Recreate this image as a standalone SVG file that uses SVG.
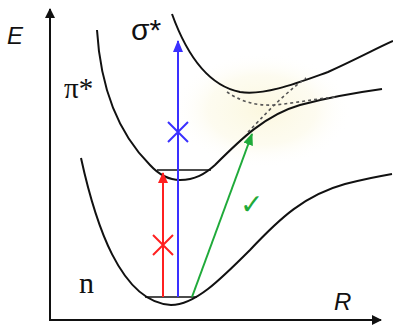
<svg xmlns="http://www.w3.org/2000/svg" width="393" height="326" viewBox="0 0 393 326">
<defs>
<style>
.curve{fill:none;stroke:#111;stroke-width:2}
.level{fill:none;stroke:#111;stroke-width:1.6}
.dash{fill:none;stroke:#555;stroke-width:1.6;stroke-dasharray:3 3}
.axis{fill:none;stroke:#111;stroke-width:2}
.lbl{fill:#111}
</style>
<radialGradient id="glow" cx="0.5" cy="0.5" r="0.5">
<stop offset="0" stop-color="#fbf7dc" stop-opacity="0.9"/>
<stop offset="0.6" stop-color="#fcf9e6" stop-opacity="0.6"/>
<stop offset="1" stop-color="#ffffff" stop-opacity="0"/>
</radialGradient>
<marker id="ahK" markerWidth="10" markerHeight="10" refX="9" refY="5" orient="auto" markerUnits="userSpaceOnUse" viewBox="0 0 10 10"><path d="M0,0 L10,5 L0,10 Z" fill="#111"/></marker>
<marker id="ahR" markerWidth="11" markerHeight="10" refX="10" refY="5" orient="auto" markerUnits="userSpaceOnUse" viewBox="0 0 11 10"><path d="M0,0 L11,5 L0,10 Z" fill="#ff2020"/></marker>
<marker id="ahB" markerWidth="12" markerHeight="10" refX="11" refY="5" orient="auto" markerUnits="userSpaceOnUse" viewBox="0 0 12 10"><path d="M0,0 L12,5 L0,10 Z" fill="#3a30ff"/></marker>
<marker id="ahG" markerWidth="12" markerHeight="10" refX="11" refY="5" orient="auto" markerUnits="userSpaceOnUse" viewBox="0 0 12 10"><path d="M0,0 L12,5 L0,10 Z" fill="#1faa3a"/></marker>
</defs>
<rect width="393" height="326" fill="#ffffff"/>
<ellipse cx="262" cy="110" rx="90" ry="58" fill="url(#glow)"/>

<g id="axes">
<path class="axis" d="M50,320 L50,9" marker-end="url(#ahK)"/>
<path class="axis" d="M49,320 L381,320" marker-end="url(#ahK)"/>
<text class="lbl" x="7" y="44" font-family="Liberation Sans, sans-serif" font-style="italic" font-size="24">E</text>
<text class="lbl" x="334" y="310" font-family="Liberation Sans, sans-serif" font-style="italic" font-size="24">R</text>
</g>

<g id="n-state">
<path class="curve" d="M81,158 C95,222 120,302 171,305 C195,305 220,280 250,250 C280,218 305,195 345,184 C365,179 380,176 392,174"/>
<path class="level" d="M145,297 L197,297"/>
<text class="lbl" x="79" y="293" font-family="Liberation Serif, serif" font-size="30">n</text>
</g>

<g id="pi-state">
<path class="curve" d="M97,30 C100,80 115,130 150,165 C162,178 172,180 180,180 C195,180 205,174 215,165 C240,140 265,115 300,105 C330,97 360,92 382,89"/>
<path class="level" d="M157,170 L211,170"/>
<text class="lbl" x="64" y="98" font-family="Liberation Serif, serif" font-size="29">π*</text>
</g>

<g id="sigma-state">
<path class="curve" d="M172,14 C185,50 205,85 240,92 C265,96 300,82 328,72 C355,60 375,49 393,41"/>
<text class="lbl" x="131" y="40" font-family="Liberation Sans, sans-serif" font-size="30">σ*</text>
</g>

<g id="crossing">
<path class="dash" d="M227,92 C240,101 255,106 275,105 C295,103 315,99 335,97"/>
<path class="dash" d="M248,132 C262,118 280,97 306,78"/>
</g>

<g id="connectors">
<g id="red-transition">
<path d="M163,297 L163,173" stroke="#ff2020" stroke-width="2" fill="none" marker-end="url(#ahR)"/>
<path d="M153,235 L173,255 M173,235 L153,255" stroke="#ff2020" stroke-width="2" fill="none"/>
</g>
<g id="blue-transition">
<path d="M178,297 L178,41" stroke="#3a30ff" stroke-width="2" fill="none" marker-end="url(#ahB)"/>
<path d="M168,122 L188,142 M188,122 L168,142" stroke="#3a30ff" stroke-width="2" fill="none"/>
</g>
<g id="green-transition">
<path d="M192,297 L252,134" stroke="#1faa3a" stroke-width="2" fill="none" marker-end="url(#ahG)"/>
<text x="240" y="214" fill="#1faa3a" font-family="DejaVu Sans, sans-serif" font-size="28">✓</text>
</g>
</g>
</svg>
